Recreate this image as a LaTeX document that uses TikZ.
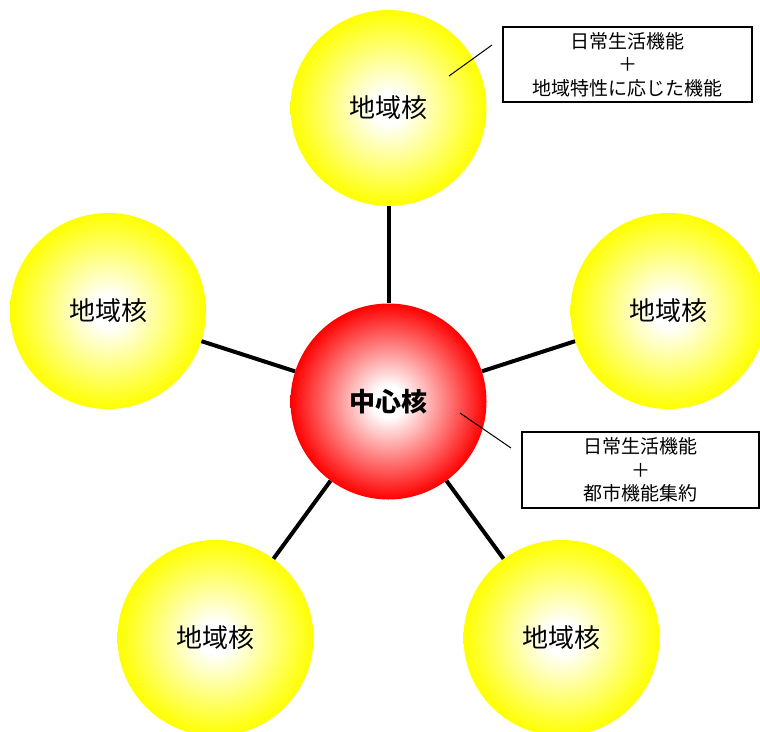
\documentclass[tikz,border=0pt]{standalone}
\usepackage{fontspec}
\newfontfamily\jp{Noto Sans CJK JP}
\pgfdeclareradialshading{yball}{\pgfpoint{0bp}{0bp}}{color(0bp)=(white); color(4bp)=(white); color(25bp)=(yellow); color(50bp)=(yellow)}
\pgfdeclareradialshading{rball}{\pgfpoint{0bp}{0bp}}{color(0bp)=(white); color(4bp)=(white); color(25bp)=(red); color(50bp)=(red)}
\tikzset{
  core/.style={circle, minimum size=196pt, inner sep=0pt, draw=none, font=\jp\fontsize{26}{29}\selectfont},
  sub/.style={core, shading=yball},
  mainc/.style={core, shading=rball, font=\jp\bfseries\fontsize{26}{29}\selectfont},
  conn/.style={line width=4pt, black},
  callout/.style={line width=1pt, black},
  note/.style={draw=black, line width=1.2pt, rectangle, inner sep=0pt, align=center, fill=white, font=\jp\fontsize{19}{23.5}\selectfont}
}
\begin{document}
\begin{tikzpicture}[x=1pt,y=-1pt]
\useasboundingbox (0,0) rectangle (760,731);
\clip (0,0) rectangle (760,731);
\node[mainc] (c) at (388.5,401.5) {中心核};
\node[sub] (t) at (388.5,108) {地域核};
\node[sub] (l) at (108,311) {地域核};
\node[sub] (r) at (668.5,311) {地域核};
\node[sub] (bl) at (215.5,638) {地域核};
\node[sub] (br) at (561.5,638) {地域核};
\draw[conn] (c) -- (t);
\draw[conn] (c) -- (l);
\draw[conn] (c) -- (r);
\draw[conn] (c) -- (bl);
\draw[conn] (c) -- (br);
\node[note, minimum width=249pt, minimum height=75pt] (n1) at (627.5,64.5) {日常生活機能\\＋\\地域特性に応じた機能};
\node[note, minimum width=237pt, minimum height=76pt] (n2) at (640.5,470) {日常生活機能\\＋\\都市機能集約};
\coordinate (a1) at (449,76);
\coordinate (b1) at (492,45);
\coordinate (a2) at (460,413);
\coordinate (b2) at (511,448);
\draw[callout] (a1) -- (b1);
\draw[callout] (a2) -- (b2);
\end{tikzpicture}
\end{document}
